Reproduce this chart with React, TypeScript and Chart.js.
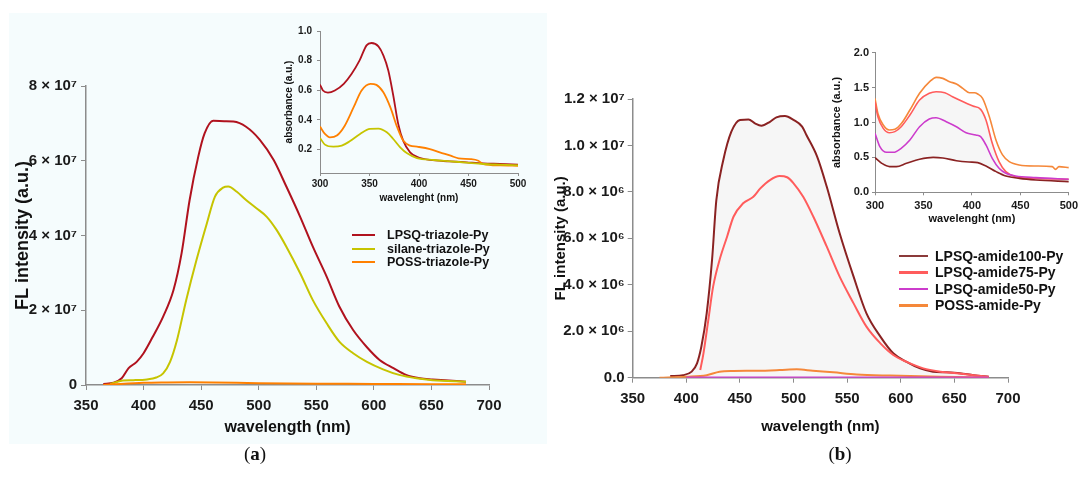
import React, { useEffect, useRef } from "react";
import { Chart, registerables } from "chart.js";

Chart.register(...registerables);

const FONT = "'Liberation Sans', Arial, Helvetica, sans-serif";

// ---------- Panel (a): fluorescence ----------
const xTicksMain = [350, 400, 450, 500, 550, 600, 650, 700];
const yTicksA = [0, 2, 4, 6, 8];
const yTickLabelsA = ["0", "2 × 10⁷", "4 × 10⁷", "6 × 10⁷", "8 × 10⁷"];

const waveA_LPSQ = [365, 374, 381, 387, 394, 400, 408, 417, 426, 433, 440, 447.5, 453, 460.5, 470, 478, 489, 501, 513, 524, 536, 547, 559, 570, 582, 594, 605, 617, 628, 640, 651, 665, 680];
const flA_LPSQ = [0.03, 0.06, 0.18, 0.45, 0.62, 0.85, 1.29, 1.83, 2.54, 3.52, 4.95, 6.11, 6.73, 7.07, 7.06, 7.05, 6.91, 6.56, 6.02, 5.31, 4.5, 3.7, 2.9, 2.1, 1.47, 1.01, 0.67, 0.45, 0.27, 0.18, 0.15, 0.12, 0.09];

const waveA_silane = [371, 382, 391, 403, 411, 417, 423, 429, 437, 446, 455, 462, 469, 473.5, 481, 489, 498, 507, 515.5, 524, 536, 547, 559, 570, 582, 594, 608, 622, 637, 651, 680];
const flA_silane = [0.03, 0.12, 0.13, 0.15, 0.2, 0.31, 0.62, 1.2, 2.27, 3.35, 4.33, 5.04, 5.28, 5.31, 5.17, 4.95, 4.73, 4.5, 4.15, 3.7, 2.99, 2.27, 1.65, 1.16, 0.85, 0.62, 0.42, 0.27, 0.18, 0.13, 0.09];

const waveA_POSS = [365, 380, 400, 420, 440, 460, 500, 550, 600, 650, 680];
const flA_POSS = [0.0, 0.03, 0.06, 0.07, 0.075, 0.07, 0.05, 0.035, 0.03, 0.02, 0.02];

// ---------- Inset (a): absorbance ----------
const xTicksInset = [300, 350, 400, 450, 500];
const yTicksInsetA = [0.2, 0.4, 0.6, 0.8, 1.0];
const yTickLabelsInsetA = ["0.2", "0.4", "0.6", "0.8", "1.0"];

const waveIA_LPSQ = [300, 303, 308, 315, 324, 332, 340, 347, 352, 359, 364, 369, 374, 379, 384, 391, 398, 411, 431, 448, 465, 482, 500];
const absIA_LPSQ = [0.638, 0.598, 0.584, 0.598, 0.643, 0.711, 0.801, 0.903, 0.919, 0.896, 0.835, 0.733, 0.564, 0.372, 0.259, 0.18, 0.15, 0.128, 0.119, 0.112, 0.105, 0.101, 0.096];

const waveIA_POSS = [300, 305, 310, 317, 325, 334, 342, 351, 357, 364, 371, 378, 384, 391, 398, 411, 421, 432, 440, 452, 460, 465, 482, 500];
const absIA_POSS = [0.354, 0.304, 0.281, 0.293, 0.36, 0.485, 0.598, 0.643, 0.636, 0.586, 0.485, 0.349, 0.259, 0.225, 0.218, 0.202, 0.18, 0.157, 0.139, 0.134, 0.123, 0.1, 0.091, 0.089];

const waveIA_silane = [300, 305, 313.5, 322, 330, 340.5, 350.5, 359, 367.5, 374, 381, 388, 398, 415, 431.5, 448, 465, 482, 500];
const absIA_silane = [0.277, 0.232, 0.218, 0.225, 0.254, 0.304, 0.338, 0.34, 0.315, 0.27, 0.214, 0.173, 0.141, 0.128, 0.119, 0.11, 0.101, 0.096, 0.091];

// ---------- Panel (b): fluorescence ----------
const yTicksB = [0, 2, 4, 6, 8, 10, 12];
const yTickLabelsB = ["0.0", "2.0 × 10⁶", "4.0 × 10⁶", "6.0 × 10⁶", "8.0 × 10⁶", "1.0 × 10⁷", "1.2 × 10⁷"];

const waveB_100 = [385, 397, 405, 410, 414, 419, 424, 428, 434.5, 442, 450, 458, 464, 470, 478, 484, 492, 500, 508, 512, 522, 531, 543, 556, 568, 581, 593, 605, 618, 630, 643, 655, 668, 682];
const flB_100 = [0.07, 0.11, 0.26, 0.62, 1.33, 2.77, 5.07, 7.65, 9.37, 10.59, 11.1, 11.12, 10.95, 10.85, 11.02, 11.21, 11.27, 11.1, 10.81, 10.45, 9.52, 8.22, 6.22, 4.35, 2.77, 1.77, 1.05, 0.69, 0.4, 0.26, 0.23, 0.19, 0.11, 0.04];

const waveB_75 = [413, 416, 420.5, 425, 431, 438, 444, 453, 462.5, 469, 478, 487, 494, 500, 509, 518.5, 531, 543, 556, 568, 581, 593, 605, 621, 637, 652, 668, 682];
const flB_75 = [0.33, 1.05, 2.48, 3.92, 5.07, 6.07, 6.93, 7.51, 7.79, 8.15, 8.51, 8.68, 8.63, 8.37, 7.79, 6.93, 5.64, 4.35, 3.2, 2.2, 1.48, 0.98, 0.69, 0.4, 0.26, 0.19, 0.11, 0.04];

const waveB_50 = [400, 450, 500, 550, 600, 650, 682];
const flB_50 = [0.01, 0.01, 0.01, 0.01, 0.01, 0.01, 0.01];

const waveB_POSS = [375, 400, 419, 431, 444, 466, 487, 503, 518, 537, 559, 590, 637, 682];
const flB_POSS = [0, 0.04, 0.11, 0.26, 0.29, 0.3, 0.33, 0.36, 0.3, 0.23, 0.14, 0.09, 0.04, 0.01];

// ---------- Inset (b): absorbance ----------
const yTicksInsetB = [0, 0.5, 1.0, 1.5, 2.0];
const yTickLabelsInsetB = ["0.0", "0.5", "1.0", "1.5", "2.0"];

const waveIB_POSS = [300, 303, 308.5, 314.7, 320.5, 327.4, 336, 346, 356.4, 363.3, 370, 377, 384, 390.6, 397.4, 402.6, 406, 411, 418, 424.8, 431.6, 438.5, 448.7, 465.8, 482.9, 486.3, 489.8, 500];
const absIB_POSS = [1.346, 1.13, 0.964, 0.893, 0.902, 0.988, 1.179, 1.418, 1.585, 1.647, 1.632, 1.585, 1.551, 1.489, 1.427, 1.427, 1.408, 1.346, 1.083, 0.749, 0.535, 0.439, 0.391, 0.377, 0.368, 0.329, 0.368, 0.353];

const waveIB_75 = [300, 303, 308.5, 315, 320.5, 327, 336, 346, 356, 363, 372, 380, 391, 401, 409, 414.5, 421, 428, 435, 445, 466, 500];
const absIB_75 = [1.298, 1.083, 0.916, 0.854, 0.869, 0.94, 1.107, 1.322, 1.418, 1.441, 1.427, 1.37, 1.298, 1.236, 1.188, 1.036, 0.702, 0.439, 0.296, 0.224, 0.2, 0.186];

const waveIB_50 = [300, 305, 312, 319, 327, 336, 346, 356, 363, 373.5, 384, 394, 404, 409, 414.5, 421, 428, 435, 445, 466, 500];
const absIB_50 = [0.845, 0.654, 0.573, 0.573, 0.63, 0.749, 0.94, 1.05, 1.069, 1.012, 0.94, 0.854, 0.821, 0.797, 0.678, 0.487, 0.344, 0.272, 0.234, 0.21, 0.186];

const waveIB_100 = [300, 307, 315, 322, 332.5, 346, 360, 370, 384, 397, 406, 414.5, 425, 435, 449, 466, 500];
const absIB_100 = [0.496, 0.415, 0.368, 0.368, 0.415, 0.473, 0.501, 0.492, 0.453, 0.434, 0.425, 0.377, 0.296, 0.234, 0.2, 0.177, 0.153];

// ---------- Legends ----------
const legendA = ["LPSQ-triazole-Py", "silane-triazole-Py", "POSS-triazole-Py"];
const legendB = ["LPSQ-amide100-Py", "LPSQ-amide75-Py", "LPSQ-amide50-Py", "POSS-amide-Py"];

const C_LPSQ_T = "#b0121e";
const C_SILANE = "#c6c400";
const C_POSS_T = "#ff8000";
const C_100 = "#8a2222";
const C_100_LEG = "#8b3a3a";
const C_75 = "#ff5c5c";
const C_50 = "#cc3ccc";
const C_POSS_A = "#f5883a";

function pts(xs: number[], ys: number[]) {
  return xs.map((x, i) => ({ x, y: ys[i] }));
}

type Spec = {
  box: { left: number; top: number; width: number; height: number };
  pad: { left: number; right: number; top: number; bottom: number };
  yWidth: number;
  xHeight: number;
  xMin: number;
  xMax: number;
  xTicks: number[];
  yMin: number;
  yMax: number;
  yTicks: number[];
  yLabels: string[];
  tickFont: number;
  xTitle: string;
  yTitle: string;
  xTitleFont: number;
  yTitleFont: number;
  tickLen: number;
  xTickPad: number;
  yTickPad: number;
  axisWidth: number;
  datasets: any[];
};

function makeConfig(s: Spec): any {
  const axisColor = "#8c8c8c";
  const tickFont = { family: FONT, size: s.tickFont, weight: "bold" as const };
  return {
    type: "line",
    data: { datasets: s.datasets },
    options: {
      responsive: false,
      maintainAspectRatio: false,
      animation: false,
      layout: { padding: s.pad },
      plugins: { legend: { display: false }, tooltip: { enabled: false } },
      elements: {
        point: { radius: 0 },
        line: { borderWidth: 2, cubicInterpolationMode: "monotone" },
      },
      scales: {
        x: {
          type: "linear",
          min: s.xMin,
          max: s.xMax,
          afterBuildTicks: (sc: any) => {
            sc.ticks = s.xTicks.map((v) => ({ value: v }));
          },
          afterFit: (sc: any) => {
            sc.height = s.xHeight;
          },
          ticks: {
            autoSkip: false,
            maxRotation: 0,
            padding: s.xTickPad,
            color: "#1a1a1a",
            font: tickFont,
            callback: (v: any) => String(v),
          },
          grid: {
            drawOnChartArea: false,
            drawTicks: true,
            tickLength: s.tickLen,
            color: axisColor,
            lineWidth: 1,
          },
          border: { display: true, color: axisColor, width: s.axisWidth },
          title: {
            display: true,
            text: s.xTitle,
            color: "#111",
            padding: 0,
            font: { family: FONT, size: s.xTitleFont, weight: "bold" },
          },
        },
        y: {
          type: "linear",
          min: s.yMin,
          max: s.yMax,
          afterBuildTicks: (sc: any) => {
            sc.ticks = s.yTicks.map((v) => ({ value: v }));
          },
          afterFit: (sc: any) => {
            sc.width = s.yWidth;
          },
          ticks: {
            autoSkip: false,
            padding: s.yTickPad,
            color: "#1a1a1a",
            font: tickFont,
            callback: (v: any) => {
              const i = s.yTicks.indexOf(v);
              return i >= 0 ? s.yLabels[i] : "";
            },
          },
          grid: {
            drawOnChartArea: false,
            drawTicks: true,
            tickLength: s.tickLen,
            color: axisColor,
            lineWidth: 1,
          },
          border: { display: true, color: axisColor, width: s.axisWidth },
          title: {
            display: true,
            text: s.yTitle,
            color: "#111",
            padding: 0,
            font: { family: FONT, size: s.yTitleFont, weight: "bold" },
          },
        },
      },
    },
  };
}

function line(label: string, xs: number[], ys: number[], color: string, width = 2, extra: any = {}) {
  return {
    label,
    data: pts(xs, ys),
    borderColor: color,
    backgroundColor: color,
    borderWidth: width,
    pointRadius: 0,
    fill: false,
    ...extra,
  };
}

function ChartBox({ spec }: { spec: Spec }) {
  const ref = useRef<HTMLCanvasElement | null>(null);
  useEffect(() => {
    if (!ref.current) return;
    const chart = new Chart(ref.current, makeConfig(spec));
    return () => chart.destroy();
  }, []);
  return (
    <canvas
      ref={ref}
      width={spec.box.width}
      height={spec.box.height}
      style={{
        position: "absolute",
        left: spec.box.left,
        top: spec.box.top,
        width: spec.box.width,
        height: spec.box.height,
      }}
    />
  );
}

const specMainA: Spec = {
  box: { left: 0, top: 0, width: 540, height: 445 },
  pad: { left: 12, right: 51, top: 86, bottom: 7.4 },
  yWidth: 74,
  xHeight: 52.6,
  xMin: 350,
  xMax: 700,
  xTicks: xTicksMain,
  yMin: 0,
  yMax: 8,
  yTicks: yTicksA,
  yLabels: yTickLabelsA,
  tickFont: 15,
  xTitle: "wavelength (nm)",
  yTitle: "FL intensity (a.u.)",
  xTitleFont: 16,
  yTitleFont: 18,
  tickLen: 5,
  xTickPad: 7,
  yTickPad: 4,
  axisWidth: 1.5,
  datasets: [
    line(legendA[2], waveA_POSS, flA_POSS, C_POSS_T),
    line(legendA[1], waveA_silane, flA_silane, C_SILANE),
    line(legendA[0], waveA_LPSQ, flA_LPSQ, C_LPSQ_T),
  ],
};

const specInsetA: Spec = {
  box: { left: 270, top: 10, width: 270, height: 200 },
  pad: { left: 13, right: 22, top: 21, bottom: 6 },
  yWidth: 37,
  xHeight: 31,
  xMin: 300,
  xMax: 500,
  xTicks: xTicksInset,
  yMin: 0.04,
  yMax: 1.0,
  yTicks: yTicksInsetA,
  yLabels: yTickLabelsInsetA,
  tickFont: 10,
  xTitle: "wavelenght (nm)",
  yTitle: "absorbance (a.u.)",
  xTitleFont: 10,
  yTitleFont: 10,
  tickLen: 3,
  xTickPad: 2,
  yTickPad: 5,
  axisWidth: 1,
  datasets: [
    line(legendA[1], waveIA_silane, absIA_silane, C_SILANE, 1.8),
    line(legendA[2], waveIA_POSS, absIA_POSS, C_POSS_T, 1.8),
    line(legendA[0], waveIA_LPSQ, absIA_LPSQ, C_LPSQ_T, 1.8),
  ],
};

const specMainB: Spec = {
  box: { left: 540, top: 0, width: 542, height: 445 },
  pad: { left: 12, right: 74, top: 99, bottom: 9.3 },
  yWidth: 80.7,
  xHeight: 58,
  xMin: 350,
  xMax: 700,
  xTicks: xTicksMain,
  yMin: 0,
  yMax: 12,
  yTicks: yTicksB,
  yLabels: yTickLabelsB,
  tickFont: 15,
  xTitle: "wavelength (nm)",
  yTitle: "FL intensity (a.u.)",
  xTitleFont: 15,
  yTitleFont: 15,
  tickLen: 5,
  xTickPad: 7,
  yTickPad: 3,
  axisWidth: 1.5,
  datasets: [
    line(legendB[2], waveB_50, flB_50, C_50),
    line(legendB[3], waveB_POSS, flB_POSS, C_POSS_A),
    line(legendB[1], waveB_75, flB_75, C_75),
    line(legendB[0], waveB_100, flB_100, C_100, 2, {
      fill: "origin",
      backgroundColor: "rgba(0,0,0,0.035)",
    }),
  ],
};

const specInsetB: Spec = {
  box: { left: 820, top: 20, width: 262, height: 210 },
  pad: { left: 10.4, right: 12, top: 32.7, bottom: 4.1 },
  yWidth: 44.6,
  xHeight: 33.6,
  xMin: 300,
  xMax: 500,
  xTicks: xTicksInset,
  yMin: 0,
  yMax: 2.0,
  yTicks: yTicksInsetB,
  yLabels: yTickLabelsInsetB,
  tickFont: 11,
  xTitle: "wavelenght (nm)",
  yTitle: "absorbance (a.u.)",
  xTitleFont: 11,
  yTitleFont: 11,
  tickLen: 3,
  xTickPad: 4,
  yTickPad: 3,
  axisWidth: 1,
  datasets: [
    line(legendB[0], waveIB_100, absIB_100, C_100, 1.6),
    line(legendB[2], waveIB_50, absIB_50, C_50, 1.6),
    line(legendB[1], waveIB_75, absIB_75, C_75, 1.6, {
      fill: 0,
      backgroundColor: "rgba(0,0,0,0.035)",
    }),
    line(legendB[3], waveIB_POSS, absIB_POSS, C_POSS_A, 1.6),
  ],
};

function Legend({
  items,
  colors,
  ys,
  lineX,
  lineW,
  textX,
  fontSize,
}: {
  items: string[];
  colors: string[];
  ys: number[];
  lineX: number;
  lineW: number;
  textX: number;
  fontSize: number;
}) {
  return (
    <>
      {items.map((t, i) => (
        <React.Fragment key={t}>
          <div
            style={{
              position: "absolute",
              left: lineX,
              top: ys[i] - 1.25,
              width: lineW,
              height: 2.5,
              background: colors[i],
            }}
          />
          <div
            style={{
              position: "absolute",
              left: textX,
              top: ys[i] - fontSize * 0.6,
              lineHeight: `${fontSize * 1.2}px`,
              fontFamily: FONT,
              fontWeight: "bold",
              fontSize,
              color: "#111",
              whiteSpace: "nowrap",
            }}
          >
            {t}
          </div>
        </React.Fragment>
      ))}
    </>
  );
}

function PanelLabel({ letter, cx, cy }: { letter: string; cx: number; cy: number }) {
  return (
    <div
      style={{
        position: "absolute",
        left: cx - 30,
        width: 60,
        top: cy - 11,
        lineHeight: "22px",
        textAlign: "center",
        fontFamily: "'Liberation Serif', 'Times New Roman', serif",
        fontSize: 19,
        color: "#111",
      }}
    >
      (<b>{letter}</b>)
    </div>
  );
}

export default function App() {
  return (
    <div
      style={{
        position: "absolute",
        left: 0,
        top: 0,
        width: 1082,
        height: 491,
        background: "#ffffff",
        overflow: "hidden",
      }}
    >
      <div
        style={{
          position: "absolute",
          left: 9,
          top: 13,
          width: 538,
          height: 431,
          background: "#f5fcfd",
        }}
      />
      <ChartBox spec={specMainA} />
      <ChartBox spec={specInsetA} />
      <ChartBox spec={specMainB} />
      <ChartBox spec={specInsetB} />
      <Legend
        items={legendA}
        colors={[C_LPSQ_T, C_SILANE, C_POSS_T]}
        ys={[235, 249, 262]}
        lineX={352}
        lineW={23}
        textX={387}
        fontSize={12.5}
      />
      <Legend
        items={legendB}
        colors={[C_100_LEG, C_75, C_50, C_POSS_A]}
        ys={[256, 272.3, 289, 305.7]}
        lineX={899}
        lineW={29}
        textX={935}
        fontSize={14}
      />
      <PanelLabel letter="a" cx={255} cy={454} />
      <PanelLabel letter="b" cx={840} cy={454} />
    </div>
  );
}
